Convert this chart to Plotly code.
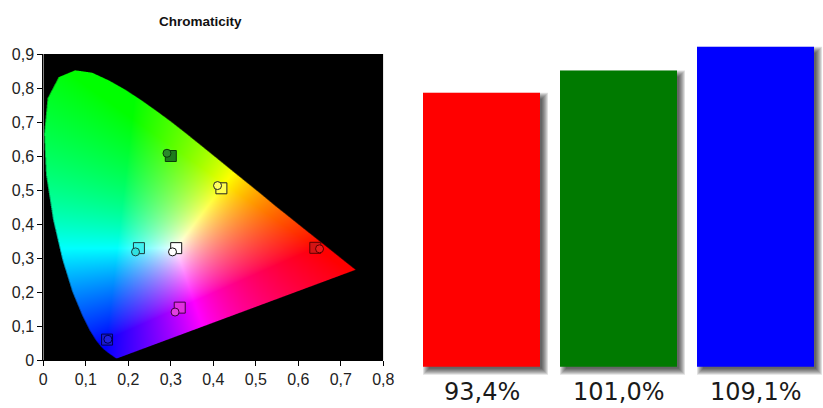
import numpy as np
import plotly.graph_objects as go
import zlib, struct, base64

# ---------------- data ----------------
# spectral locus (380..700 nm, 5 nm steps), shape as drawn in the reference
LOCUS_X = [0.1741, 0.1740, 0.1738, 0.1736, 0.1733, 0.1730, 0.1726, 0.1721, 0.1714, 0.1703,
           0.1689, 0.1669, 0.1644, 0.1611, 0.1566, 0.1510, 0.1440, 0.1355, 0.1241, 0.1096,
           0.0913, 0.0687, 0.0454, 0.0235, 0.0070, 0.0025, 0.0105, 0.0365, 0.0750, 0.1150,
           0.1547, 0.1929, 0.2296, 0.2658, 0.3016, 0.3373, 0.3731, 0.4087, 0.4441, 0.4788,
           0.5125, 0.5448, 0.5752, 0.6029, 0.6270, 0.6482, 0.6658, 0.6801, 0.6915, 0.7006,
           0.7079, 0.7140, 0.7190, 0.7230, 0.7260, 0.7283, 0.7300, 0.7320, 0.7334, 0.7347]
LOCUS_Y = [0.0050, 0.0050, 0.0049, 0.0049, 0.0048, 0.0048, 0.0048, 0.0048, 0.0051, 0.0058,
           0.0069, 0.0086, 0.0109, 0.0138, 0.0177, 0.0227, 0.0297, 0.0399, 0.0578, 0.0868,
           0.1327, 0.2007, 0.2950, 0.4127, 0.5450, 0.6650, 0.7700, 0.8320, 0.8520, 0.8450,
           0.8220, 0.7950, 0.7650, 0.7330, 0.7000, 0.6650, 0.6290, 0.5930, 0.5570, 0.5220,
           0.4880, 0.4544, 0.4242, 0.3965, 0.3725, 0.3514, 0.3340, 0.3197, 0.3083, 0.2993,
           0.2920, 0.2859, 0.2809, 0.2770, 0.2740, 0.2717, 0.2700, 0.2680, 0.2666, 0.2653]

TICK_X = [0, 0.1, 0.2, 0.3, 0.4, 0.5, 0.6, 0.7, 0.8]
TICK_X_TEXT = ["0", "0,1", "0,2", "0,3", "0,4", "0,5", "0,6", "0,7", "0,8"]
TICK_Y = [0, 0.1, 0.2, 0.3, 0.4, 0.5, 0.6, 0.7, 0.8, 0.9]
TICK_Y_TEXT = ["0", "0,1", "0,2", "0,3", "0,4", "0,5", "0,6", "0,7", "0,8", "0,9"]

# points: red, green, blue, cyan, magenta, yellow, white
TARGET_X = [0.640, 0.300, 0.150, 0.225, 0.321, 0.419, 0.3127]
TARGET_Y = [0.330, 0.600, 0.060, 0.329, 0.154, 0.505, 0.329]
MEAS_X = [0.650, 0.291, 0.152, 0.217, 0.310, 0.410, 0.304]
MEAS_Y = [0.327, 0.608, 0.061, 0.318, 0.141, 0.513, 0.318]

BAR_CATS = [0, 1, 2]
BAR_VALUES = [93.4, 101.0, 109.1]
BAR_LABELS = ["93,4%", "101,0%", "109,1%"]

# ---------------- styles ----------------
SQ_FILL = ['#d41414', '#1d7a1d', '#1a1ad0', '#40f0f0', '#e030e0', '#ffff50', '#ffffff']
SQ_LINE = ['#5a0000', '#083a08', '#000050', '#1c3c3c', '#400040', '#222222', '#111111']
CI_FILL = ['#e81c1c', '#2a8a2a', '#2020e0', '#30e0e0', '#e040e0', '#ffff60', '#ffffff']
CI_LINE = ['#5a0000', '#083a08', '#000050', '#1c3c3c', '#400040', '#222222', '#111111']
BAR_COLORS = ['#ff0000', '#007a00', '#0000ff']


def inside(px, py, vx, vy):
    res = np.zeros(px.shape, bool)
    n = len(vx)
    j = n - 1
    with np.errstate(divide='ignore', invalid='ignore'):
        for i in range(n):
            xi, yi, xj, yj = vx[i], vy[i], vx[j], vy[j]
            if yi != yj:
                cross = (yi > py) != (yj > py)
                xint = (xj - xi) * (py - yi) / (yj - yi) + xi
                res ^= cross & (px < xint)
            j = i
    return res


def cie_rgb(x, y):
    y = np.maximum(y, 1e-4)
    X = x / y
    Y = np.ones_like(x)
    Z = (1 - x - y) / y
    r = 2.0414 * X - 0.5649 * Y - 0.3447 * Z
    g = -0.9693 * X + 1.8760 * Y + 0.0416 * Z
    b = 0.0134 * X - 0.1184 * Y + 1.0154 * Z
    rgb = np.clip(np.stack([r, g, b], -1), 0, None)
    rgb = rgb / np.maximum(rgb.max(-1, keepdims=True), 1e-9)
    return np.clip(rgb, 0, 1) ** 0.8


def png_uri(img):
    h, w, _ = img.shape
    raw = b''.join(b'\x00' + img[r].tobytes() for r in range(h))

    def chunk(t, d):
        return struct.pack('>I', len(d)) + t + d + struct.pack('>I', zlib.crc32(t + d) & 0xffffffff)
    png = (b'\x89PNG\r\n\x1a\n' + chunk(b'IHDR', struct.pack('>IIBBBBB', w, h, 8, 2, 0, 0, 0))
           + chunk(b'IDAT', zlib.compress(raw, 9)) + chunk(b'IEND', b''))
    return 'data:image/png;base64,' + base64.b64encode(png).decode()


XMAX, YMAX = TICK_X[-1], TICK_Y[-1]
W, H, S = 340, 306, 3
gx = (np.arange(W * S) + 0.5) / (W * S) * XMAX
gy = YMAX - (np.arange(H * S) + 0.5) / (H * S) * YMAX
PX, PY = np.meshgrid(gx, gy)
mask = inside(PX, PY, np.array(LOCUS_X), np.array(LOCUS_Y))
col = cie_rgb(PX, PY) * mask[..., None]
col = col.reshape(H, S, W, S, 3).mean(axis=(1, 3))
img = (np.clip(col, 0, 1) * 255 + 0.5).astype(np.uint8)
uri = png_uri(img)

fig = go.Figure()

fig.add_trace(go.Scatter(x=TARGET_X, y=TARGET_Y, mode='markers', xaxis='x', yaxis='y',
                         marker=dict(symbol='square', size=11, color=SQ_FILL,
                                     line=dict(color=SQ_LINE, width=1)),
                         hoverinfo='x+y'))
fig.add_trace(go.Scatter(x=MEAS_X, y=MEAS_Y, mode='markers', xaxis='x', yaxis='y',
                         marker=dict(symbol='circle', size=8, color=CI_FILL,
                                     line=dict(color=CI_LINE, width=1)),
                         hoverinfo='x+y'))

# bars with soft shadows
PPU_X = 137.0     # px per category
PPU_Y = 2.9336    # px per percent
BW = 0.854
DX, DY = 4.0, 4.0
for s in [-2, -1, 0, 1, 2, 3, 4]:
    sx = s / PPU_X
    sy = s / PPU_Y
    fig.add_trace(go.Bar(x=BAR_CATS, y=[v + 2 * sy for v in BAR_VALUES],
                         base=-DY / PPU_Y - sy,
                         width=BW + 2 * sx, offset=-BW / 2 + DX / PPU_X - sx,
                         marker=dict(color='rgba(0,0,0,0.12)', line=dict(width=0)),
                         xaxis='x2', yaxis='y2', hoverinfo='skip'))
fig.add_trace(go.Bar(x=BAR_CATS, y=BAR_VALUES, width=BW, offset=-BW / 2,
                     marker=dict(color=BAR_COLORS, line=dict(width=0)),
                     xaxis='x2', yaxis='y2', hovertext=BAR_LABELS, hoverinfo='text'))

for c, lab in zip(BAR_CATS, BAR_LABELS):
    fig.add_annotation(x=c, y=(408 - 392) / 408, xref='x2', yref='paper', text=lab,
                       showarrow=False, xanchor='center', yanchor='middle',
                       font=dict(family='DejaVu Sans', size=24, color='#1a1a1a'))

fig.add_annotation(x=200 / 823, y=1 - 21.5 / 408, xref='paper', yref='paper',
                   text='<b>Chromaticity</b>', showarrow=False, xanchor='center', yanchor='middle',
                   font=dict(family='Liberation Sans', size=13.5, color='#111111'))

fig.add_layout_image(dict(source=uri, xref='x', yref='y', x=0, y=YMAX, sizex=XMAX, sizey=YMAX,
                          sizing='stretch', xanchor='left', yanchor='top', layer='below'))

tickfont = dict(family='Liberation Sans', size=16, color='#222222')
y2_bottom = 366.7 + 6 * PPU_Y
fig.update_layout(
    width=823, height=408, margin=dict(l=0, r=0, t=0, b=0, pad=0, autoexpand=False),
    paper_bgcolor='white', plot_bgcolor='rgba(0,0,0,0)',
    showlegend=False, barmode='overlay',
    xaxis=dict(domain=[43.3 / 823, 383.3 / 823], range=[0, XMAX], tickvals=TICK_X, ticktext=TICK_X_TEXT,
               ticks='outside', ticklen=5, tickcolor='#000', tickwidth=1, showgrid=False, zeroline=False,
               showline=True, linecolor='#000', tickfont=tickfont, anchor='y', fixedrange=True,
               automargin=False),
    yaxis=dict(domain=[(408 - 360) / 408, (408 - 54) / 408], range=[0, YMAX], tickvals=TICK_Y,
               ticktext=TICK_Y_TEXT, ticks='outside', ticklen=5, tickcolor='#000', tickwidth=1,
               showgrid=False, zeroline=False, showline=True, linecolor='#000', tickfont=tickfont,
               anchor='x', fixedrange=True, automargin=False),
    xaxis2=dict(domain=[413 / 823, 1.0], range=[-0.5, -0.5 + 410 / PPU_X], visible=False,
                anchor='y2', fixedrange=True, automargin=False),
    yaxis2=dict(domain=[(408 - y2_bottom) / 408, (408 - 30) / 408],
                range=[-6, (366.7 - 30) / PPU_Y], visible=False, anchor='x2', fixedrange=True,
                automargin=False),
)

fig.write_html("out.html", config={'displayModeBar': False},
               post_script="document.body.style.margin='0';document.body.style.overflow='hidden';")
